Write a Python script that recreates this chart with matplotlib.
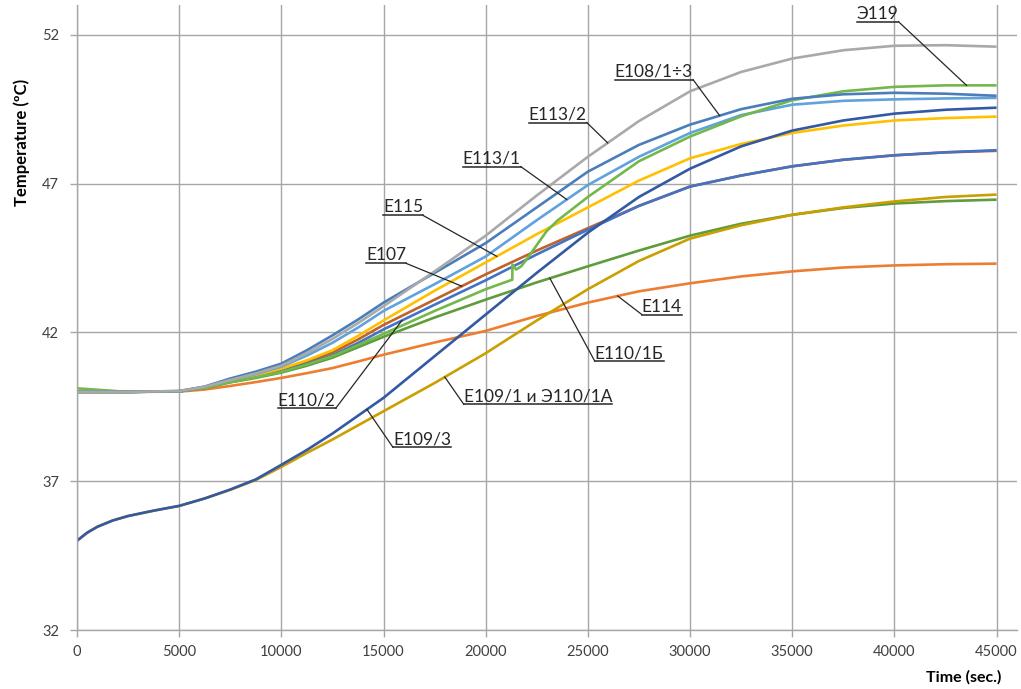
import numpy as np
import matplotlib
matplotlib.use("Agg")
import matplotlib.pyplot as plt

plt.rcParams['font.family'] = ['Lato', 'Noto Sans', 'DejaVu Sans']

# time axis (sec.) shared by most series
t_main = [0, 2500, 5000, 6250, 7500, 8750, 10000, 11250, 12500, 13750, 15000,
          17500, 20000, 22500, 25000, 27500, 30000, 32500, 35000, 37500,
          40000, 42500, 45000]

e113_2 = [40.0, 40.0, 40.03, 40.17, 40.4, 40.62, 40.88, 41.3, 41.78, 42.31,
          42.88, 44.05, 45.25, 46.6, 47.9, 49.1, 50.1, 50.75, 51.2, 51.48,
          51.63, 51.65, 51.6]
e108 = [40.0, 40.0, 40.03, 40.18, 40.45, 40.68, 40.95, 41.4, 41.9, 42.43,
        43.0, 44.0, 45.0, 46.2, 47.4, 48.3, 48.98, 49.5, 49.85, 50.0,
        50.05, 50.02, 49.95]
e113_1 = [40.0, 40.0, 40.02, 40.16, 40.4, 40.6, 40.85, 41.22, 41.65, 42.16,
          42.72, 43.62, 44.55, 45.77, 46.95, 47.9, 48.7, 49.3, 49.65, 49.78,
          49.83, 49.86, 49.88]
e115 = [40.0, 40.0, 40.02, 40.15, 40.38, 40.56, 40.78, 41.06, 41.4, 41.88,
        42.4, 43.4, 44.35, 45.3, 46.2, 47.1, 47.85, 48.33, 48.7, 48.95,
        49.12, 49.2, 49.25]
e107 = [40.0, 40.0, 40.02, 40.14, 40.36, 40.53, 40.74, 41.0, 41.32, 41.76,
        42.25, 43.1, 43.95, 44.75, 45.5, 46.25, 46.9, 47.27, 47.58, 47.8,
        47.95, 48.05, 48.1]
e110_2 = [40.0, 40.0, 40.02, 40.14, 40.35, 40.51, 40.7, 40.94, 41.23, 41.64,
          42.1, 42.93, 43.75, 44.62, 45.45, 46.25, 46.9, 47.27, 47.58, 47.8,
          47.95, 48.05, 48.12]
e110_1b = [40.0, 40.0, 40.02, 40.13, 40.32, 40.47, 40.65, 40.88, 41.15, 41.5,
           41.85, 42.5, 43.1, 43.68, 44.22, 44.75, 45.25, 45.65, 45.95, 46.18,
           46.33, 46.41, 46.46]
e114 = [40.0, 40.0, 40.01, 40.08, 40.2, 40.33, 40.47, 40.63, 40.8, 41.02,
        41.25, 41.66, 42.05, 42.55, 43.0, 43.38, 43.65, 43.88, 44.05, 44.18,
        44.25, 44.29, 44.31]

# Э119 has a jump near 21300 s
t_e119 = [0, 2500, 5000, 6250, 7500, 8750, 10000, 11250, 12500, 13750, 15000,
          17500, 20000, 21300, 21310, 21490, 21740, 22000, 22980, 23500,
          25000, 27500, 30000, 32500, 35000, 37500, 40000, 42500, 45000]
e119 = [40.12, 40.0, 40.02, 40.13, 40.33, 40.49, 40.67, 40.92, 41.2, 41.57,
        41.95, 42.72, 43.45, 43.77, 44.28, 44.11, 44.22, 44.45, 45.4, 45.75,
        46.55, 47.75, 48.58, 49.26, 49.8, 50.1, 50.25, 50.3, 50.3]

# lower group starting at 35
t_low = [0, 500, 1000, 1750, 2500, 3750, 5000, 6250, 7500, 8750, 10000,
         11250, 12500, 15000, 17500, 20000, 22500, 25000, 27500, 30000,
         32500, 35000, 37500, 40000, 42500, 45000]
e109_3 = [35.0, 35.27, 35.47, 35.68, 35.83, 36.01, 36.17, 36.42, 36.72, 37.06,
          37.55, 38.05, 38.6, 39.8, 41.2, 42.6, 44.0, 45.35, 46.55, 47.5,
          48.25, 48.78, 49.12, 49.35, 49.48, 49.55]
e109_1 = [35.0, 35.27, 35.47, 35.68, 35.83, 36.01, 36.17, 36.42, 36.71, 37.04,
          37.48, 37.95, 38.4, 39.35, 40.3, 41.3, 42.4, 43.45, 44.4, 45.15,
          45.6, 45.95, 46.2, 46.4, 46.55, 46.63]

x_ticks = [0, 5000, 10000, 15000, 20000, 25000, 30000, 35000, 40000, 45000]
y_ticks = [32, 37, 42, 47, 52]

series = [
    # name, x, y, colour
    ("E114", t_main, e114, "#ED7D31"),
    ("E110/1Б", t_main, e110_1b, "#5E9C3C"),
    ("E109/1 и Э110/1А", t_low, e109_1, "#C9A000"),
    ("E107", t_main, e107, "#C0622B"),
    ("E110/2", t_main, e110_2, "#4472C4"),
    ("E115", t_main, e115, "#FFC000"),
    ("E109/3", t_low, e109_3, "#3459A4"),
    ("E113/1", t_main, e113_1, "#5FA2DD"),
    ("Э119", t_e119, e119, "#72B84A"),
    ("E108/1÷3", t_main, e108, "#4A7EBB"),
    ("E113/2", t_main, e113_2, "#A9A9A9"),
]

# label text position (left, underline), target x on the curve, leader side
labels = [
    ("Э119", 38150, 52.44, 43530, "right"),
    ("E108/1÷3", 26320, 50.49, 31450, "right"),
    ("E113/2", 22110, 49.05, 25970, "right"),
    ("E113/1", 18880, 47.57, 23970, "right"),
    ("E115", 14970, 45.93, 20540, "right"),
    ("E107", 14140, 44.32, 18830, "right"),
    ("E110/2", 9830, 39.45, 15900, "right"),
    ("E110/1Б", 25340, 41.03, 23140, "left"),
    ("E114", 27640, 42.6, 26460, "left"),
    ("E109/1 и Э110/1А", 18930, 39.58, 18000, "left"),
    ("E109/3", 15460, 38.14, 14190, "left"),
]

fig = plt.figure(figsize=(10.21, 6.89), dpi=100)
ax = fig.add_axes([77 / 1021, 59 / 689, 940 / 1021, 625 / 689])

grid_c = "#A6A6A6"
ax.set_xlim(0, 46000)
ax.set_ylim(32, 53)
ax.set_xticks(x_ticks)
ax.set_yticks(y_ticks)
ax.set_xticklabels([str(v) for v in x_ticks])
ax.grid(True, color=grid_c, lw=1.0)
ax.set_axisbelow(True)
for s in ["top", "right"]:
    ax.spines[s].set_visible(False)
for s in ["left", "bottom"]:
    ax.spines[s].set_color(grid_c)
    ax.spines[s].set_linewidth(1.0)
ax.tick_params(axis="both", colors=grid_c, length=5, width=1.0,
               labelcolor="#404040", labelsize=10.5)
ax.tick_params(axis="x", pad=6)
ax.tick_params(axis="y", pad=8)

curves = {}
for name, xs, ys, col in series:
    ax.plot(xs, ys, color=col, lw=1.9, solid_capstyle="butt")
    curves[name] = (xs, ys)

fig.text(22 / 1021, 1 - 142 / 689, "Temperature (ºC)", rotation=90,
         ha="center", va="center", fontsize=12, fontweight="bold")
fig.text(1001 / 1021, 1 - 677 / 689, "Time (sec.)", ha="right", va="center",
         fontsize=11.5, fontweight="bold")

texts = []
for name, lx, ly, tx, side in labels:
    t = ax.text(lx, ly, name, ha="left", va="bottom", fontsize=12.5,
                color="#262626")
    texts.append((t, name, ly, tx, side))

fig.canvas.draw()
renderer = fig.canvas.get_renderer()
inv = ax.transData.inverted()
for t, name, ly, tx, side in texts:
    bb = t.get_window_extent(renderer)
    x0, _ = inv.transform((bb.x0, bb.y0))
    x1, _ = inv.transform((bb.x1, bb.y0))
    ax.plot([x0, x1], [ly, ly], color="#262626", lw=1.1)
    xs, ys = curves[name]
    ty = np.interp(tx, xs, ys)
    sx = x1 if side == "right" else x0
    ax.plot([sx, tx], [ly, ty], color="#262626", lw=0.9)

fig.savefig("out.png", dpi=100)
